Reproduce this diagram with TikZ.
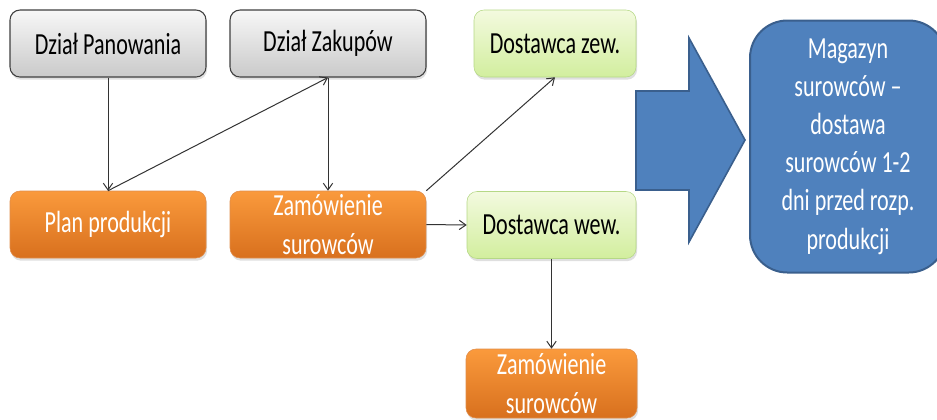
\documentclass[tikz,border=0pt]{standalone}
\usepackage{fontspec}
\setmainfont{Carlito}[FakeStretch=0.72]
\usetikzlibrary{arrows.meta,shadows}

\definecolor{orangetop}{HTML}{FA9A3C}
\definecolor{orangebot}{HTML}{D8701E}
\definecolor{greentop}{HTML}{F3FADF}
\definecolor{greenbot}{HTML}{D2EE9E}
\definecolor{greenline}{HTML}{B5D886}
\definecolor{blueface}{HTML}{4F81BD}
\definecolor{blueline}{HTML}{3A5F8D}

\begin{document}
\begin{tikzpicture}[x=0.75pt,y=-0.75pt,>={Straight Barb[length=5pt,width=7pt]},
  every node/.style={font=\fontsize{23}{28.6}\selectfont},
  box/.style={rounded corners=7.5pt,minimum width=147pt,minimum height=50.25pt,
    inner xsep=2pt,inner ysep=0pt,align=center,
    drop shadow={shadow xshift=0.8pt,shadow yshift=-2pt,opacity=0.25}},
  dzial/.style={box,draw=black!75,line width=0.8pt,top color=gray!6,bottom color=gray!42},
  zam/.style={box,text=white,draw=orangebot!80,top color=orangetop,bottom color=orangebot},
  dost/.style={box,draw=greenline,top color=greentop,bottom color=greenbot},
  conn/.style={->,draw=black!80,line width=0.75pt}]
  \useasboundingbox (0,0) rectangle (937,419);
  % upper row
  \node[dzial] (panow) at (108,43.5) {Dział Panowania};
  \node[dzial] (zakup) at (328,43.5) {Dział Zakupów};
  \node[dost,minimum width=121.5pt] (zew) at (555,43.5) {Dostawca zew.};
  % middle row
  \node[zam] (plan) at (108,224.5) {Plan produkcji};
  \node[zam] (zam1) at (328,224.5) {Zamówienie\\surowców};
  \node[dost,minimum width=126.75pt] (wew) at (551.5,225) {Dostawca wew.};
  % bottom
  \node[zam,minimum width=128.25pt,minimum height=51.75pt] (zam2) at (551.5,383.5) {Zamówienie\\surowców};
  % connectors
  \draw[conn] (panow.south) -- (plan.north);
  \draw[conn] (plan.north) -- (zakup.south);
  \draw[conn] (zakup.south) -- (zam1.north);
  \draw[conn] (zam1.north east) -- (zew.south);
  \draw[conn] (zam1.east) -- (wew.west);
  \draw[conn] (wew.south) -- (zam2.north);
  % big arrow
  \draw[draw=blueline,line width=1.2pt,fill=blueface,line join=miter]
    (636,91) -- (689,91) -- (689,38) -- (745,140) -- (689,242) -- (689,190) -- (636,190) -- cycle;
  % store
  \node[draw=blueline,line width=1.5pt,fill=blueface,rounded corners=28pt,
    minimum width=147pt,minimum height=189pt,text=white,align=center] (mag) at (848,146.5)
    {Magazyn\\surowców –\\dostawa\\surowców 1-2\\dni przed rozp.\\produkcji};
\end{tikzpicture}
\end{document}
